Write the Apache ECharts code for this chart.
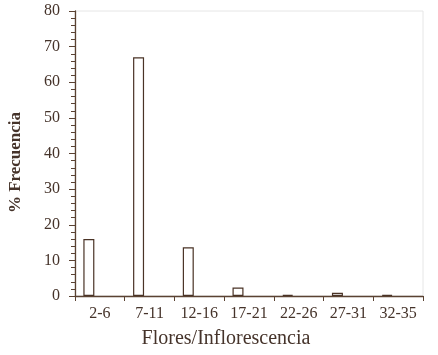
<!DOCTYPE html>
<html><head><meta charset="utf-8">
<script src="https://cdn.jsdelivr.net/npm/echarts@6/dist/echarts.min.js"></script>
<style>html,body{margin:0;padding:0;background:#fff}#c{width:438px;height:355px}</style>
</head><body><div id="c"></div>
<script>
var categories = ['2-6','7-11','12-16','17-21','22-26','27-31','32-35'];
var frecuencia = [16, 67, 13.7, 2.4, 0.3, 0.9, 0.3];
var emptyA = [null,null,null,null,null,null,null];
var emptyB = [null,null,null,null,null,null,null];
var yTicks = [0,10,20,30,40,50,60,70,80];

var txt = '#45332a';
var axisCol = '#5a4232';
var font = 'Liberation Serif';
var chart = echarts.init(document.getElementById('c'));
var barStyle = {color:'#ffffff', borderColor:'#4a3326', borderWidth:1.2};
chart.setOption({
  animation:false,
  grid:{left:75, right:15, top:11, bottom:59, containLabel:false, outerBoundsMode:'none', show:true, borderColor:'#e6e6e6', borderWidth:1, backgroundColor:'transparent'},
  xAxis:{
    type:'category', data:categories,
    axisLine:{lineStyle:{color:axisCol, width:1.3}},
    axisTick:{show:true, alignWithLabel:false, length:5, lineStyle:{color:axisCol}},
    axisLabel:{color:txt, fontFamily:font, fontSize:16, margin:10},
    name:'Flores/Inflorescencia', nameLocation:'middle', nameGap:33,
    nameTextStyle:{color:txt, fontFamily:font, fontSize:20, padding:[0,46,0,0]}
  },
  yAxis:{
    type:'value', min:yTicks[0], max:yTicks[yTicks.length-1], interval:10,
    axisLine:{show:true, lineStyle:{color:axisCol, width:1.3}},
    axisTick:{show:true, length:6, lineStyle:{color:axisCol}},
    minorTick:{show:true, splitNumber:5, length:4, lineStyle:{color:axisCol}},
    splitLine:{show:false},
    axisLabel:{color:txt, fontFamily:font, fontSize:16, margin:15},
    name:'% Frecuencia', nameLocation:'middle', nameGap:51, nameRotate:90,
    nameTextStyle:{color:txt, fontFamily:font, fontSize:17, fontWeight:'bold', padding:[0,18,0,0]}
  },
  series:[
    {type:'bar', data:frecuencia, barWidth:11, barGap:'0%', itemStyle:barStyle},
    {type:'bar', data:emptyA, barWidth:11, barGap:'0%', itemStyle:barStyle},
    {type:'bar', data:emptyB, barWidth:11, barGap:'0%', itemStyle:barStyle}
  ]
});
</script></body></html>
